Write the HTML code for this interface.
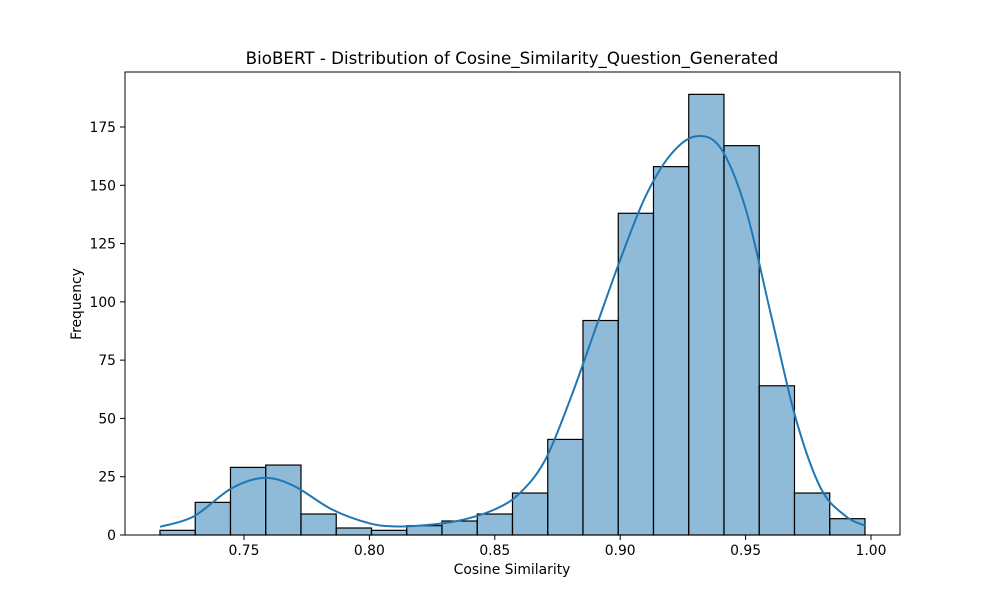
<!DOCTYPE html>
<html><head><meta charset="utf-8"><style>
body{margin:0;background:#fff;}
svg text{font-family:"DejaVu Sans","Liberation Sans",sans-serif;fill:#000;}
</style></head><body>
<svg id="chart" width="1000" height="600" xmlns="http://www.w3.org/2000/svg">
<rect width="1000" height="600" fill="#fff"/>
<g id="bars"></g>
<path id="kde" fill="none" stroke="#1f77b4" stroke-width="2"/>
<rect x="125" y="72" width="775" height="463" fill="none" stroke="#000" stroke-width="1"/>
<g id="xticks"></g>
<g id="yticks"></g>
<text x="512" y="64" font-size="16.7" text-anchor="middle">BioBERT - Distribution of Cosine_Similarity_Question_Generated</text>
<text x="512" y="574" font-size="13.9" text-anchor="middle">Cosine Similarity</text>
<text x="81" y="304" font-size="13.9" text-anchor="middle" transform="rotate(-90 81 304)">Frequency</text>
</svg>
<script>
const binStart = 0.7165;
const binEnd = 0.9976;
const counts = [2,14,29,30,9,3,2,4,6,9,18,41,92,138,158,189,167,64,18,7];
const kdeX = [0.7165,0.73,0.745,0.758,0.77,0.785,0.80,0.81,0.82,0.835,0.85,0.86,0.87,0.88,0.89,0.90,0.91,0.92,0.93,0.94,0.95,0.96,0.97,0.98,0.99,0.9976];
const kdeY = [3.5,8,20,24.5,21,11,5,3.7,4,6,11,18,32,58,88,118,145,163,171,166,140,95,50,20,8,4];
const xTicks = [0.75,0.80,0.85,0.90,0.95,1.00];
const yTicks = [0,25,50,75,100,125,150,175];

const NS="http://www.w3.org/2000/svg";
function sx(v){return 244+(v-0.75)*2508;}
function sy(v){return 535-v*2.3314;}
function mk(tag,attrs,parent){const e=document.createElementNS(NS,tag);for(const k in attrs)e.setAttribute(k,attrs[k]);parent.appendChild(e);return e;}

const bars=document.getElementById('bars');
const bw=(binEnd-binStart)/counts.length;
counts.forEach((c,i)=>{
  const x0=sx(binStart+i*bw), x1=sx(binStart+(i+1)*bw);
  const r=mk('rect',{x:x0,y:sy(c),width:x1-x0,height:sy(0)-sy(c),fill:'rgba(31,119,180,0.5)',stroke:'#000','stroke-width':1.2},bars);
  
  
});

const pts=kdeX.map((x,i)=>[sx(x),sy(kdeY[i])]);
let d='M'+pts[0][0]+','+pts[0][1];
for(let i=0;i<pts.length-1;i++){
  const p0=pts[Math.max(0,i-1)],p1=pts[i],p2=pts[i+1],p3=pts[Math.min(pts.length-1,i+2)];
  const c1=[p1[0]+(p2[0]-p0[0])/6,p1[1]+(p2[1]-p0[1])/6];
  const c2=[p2[0]-(p3[0]-p1[0])/6,p2[1]-(p3[1]-p1[1])/6];
  d+=' C'+c1[0]+','+c1[1]+' '+c2[0]+','+c2[1]+' '+p2[0]+','+p2[1];
}
document.getElementById('kde').setAttribute('d',d);

const xg=document.getElementById('xticks');
xTicks.forEach(t=>{
  const x=sx(t);
  const l=mk('line',{x1:x,x2:x,y1:535,y2:540,stroke:'#000'},xg);
  
  
  const tx=mk('text',{x:x,y:555,'font-size':13.9,'text-anchor':'middle'},xg);
  tx.textContent=t.toFixed(2);
  
  
});
const yg=document.getElementById('yticks');
yTicks.forEach(t=>{
  const y=sy(t);
  const l=mk('line',{x1:120,x2:125,y1:y,y2:y,stroke:'#000'},yg);
  
  
  const tx=mk('text',{x:116,y:y+5,'font-size':13.9,'text-anchor':'end'},yg);
  tx.textContent=t;
  
  
});
</script>
</body></html>
